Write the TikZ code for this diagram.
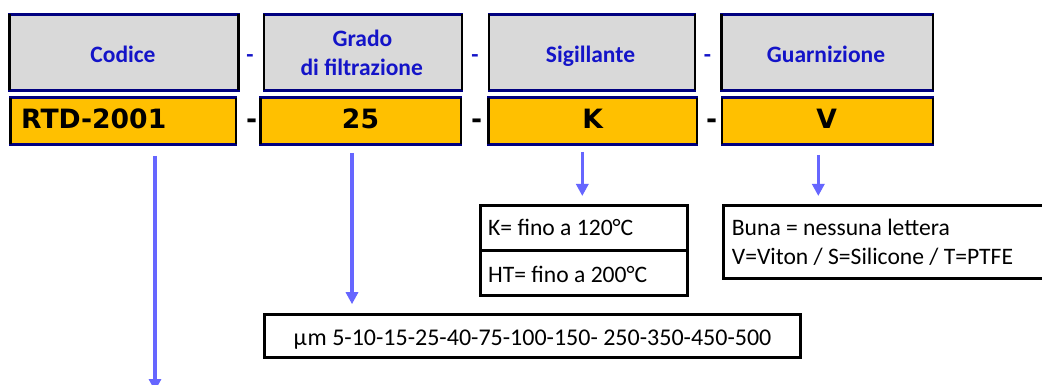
\documentclass[tikz,border=0pt]{standalone}
\usepackage{fontspec}
\setmainfont{Carlito}
\newfontfamily\codefont{DejaVu Sans}
\usetikzlibrary{arrows.meta}
\definecolor{hdrgray}{HTML}{D9D9D9}
\definecolor{codeorange}{HTML}{FFC000}
\definecolor{navyline}{HTML}{000080}
\definecolor{hdrblue}{RGB}{20,20,200}
\definecolor{arrowblue}{RGB}{102,102,255}
\tikzset{
  framed/.style={draw=navyline, line width=2.7pt, inner sep=0pt, outer sep=0pt,
    append after command={(\tikzlastnode.north west) edge[draw=black, line width=2.7pt] (\tikzlastnode.south west)
      (\tikzlastnode.north east) edge[draw=black, line width=2.7pt] (\tikzlastnode.south east)}},
  hdrbox/.style={framed, fill=hdrgray, minimum height=76pt},
  codebox/.style={framed, fill=codeorange, minimum height=46.5pt},
  infobox/.style={draw=black, line width=2.7pt, inner sep=0pt, outer sep=0pt, fill=white},
  hdrtext/.style={anchor=base, inner sep=0pt, text=hdrblue, font=\fontsize{23.5}{28}\selectfont\bfseries},
  codetext/.style={anchor=base, inner sep=0pt, font=\codefont\fontsize{26.6}{32}\selectfont\bfseries},
  infotext/.style={anchor=base west, inner sep=0pt, font=\fontsize{23.6}{28}\selectfont},
  linkarrow/.style={draw=arrowblue, line width=3.5pt, -{Triangle[length=12pt,width=12pt]}},
}
\begin{document}
\begin{tikzpicture}[x=1pt,y=-1pt]
\useasboundingbox (0,0) rectangle (1042,385);
\clip (0,0) rectangle (1042,385);
\fill[white] (0,0) rectangle (1042,385);

% header boxes
\node[hdrbox, minimum width=229pt] (hcod) at (124,52.5) {};
\node[hdrbox, minimum width=198pt] (hgra) at (363,52.5) {};
\node[hdrbox, minimum width=206pt] (hsig) at (592,52.5) {};
\node[hdrbox, minimum width=211.5pt] (hgua) at (827.25,52.5) {};

% code boxes
\node[codebox, minimum width=225.5pt] (ccod) at (123.25,121) {};
\node[codebox, minimum width=200.5pt] (cgra) at (360.75,121) {};
\node[codebox, minimum width=208.5pt] (csig) at (592.75,121) {};
\node[codebox, minimum width=211pt] (cgua) at (827.5,121) {};

% header texts
\node[hdrtext] (tcod) at (123,62.3) {Codice};
\node[hdrtext] (tgra1) at (362.5,47) {Grado};
\node[hdrtext] (tgra2) at (361.7,76) {di filtrazione};
\node[hdrtext] (tsig) at (590.5,62.3) {Sigillante};
\node[hdrtext] (tgua) at (826,62.3) {Guarnizione};
\node[hdrtext] (hd1) at (250,62.3) {-};
\node[hdrtext] (hd2) at (475,62.3) {-};
\node[hdrtext] (hd3) at (707.5,62.3) {-};

% code texts
\node[codetext, anchor=base west] (vcod) at (21,129) {RTD-2001};
\node[codetext] (vgra) at (360.5,129) {25};
\node[codetext] (vsig) at (592.7,129) {K};
\node[codetext] (vgua) at (826.7,129) {V};
\node[codetext] (cd1) at (251.7,129) {-};
\node[codetext] (cd2) at (476.7,129) {-};
\node[codetext] (cd3) at (711.7,129) {-};

% info boxes
\node[infobox, minimum width=206.7pt, minimum height=44.8pt] (ktop) at (583.85,227.9) {};
\node[infobox, minimum width=206.7pt, minimum height=44.9pt] (kbot) at (583.85,272.75) {};
\node[infobox, minimum width=330pt, minimum height=72.6pt] (buna) at (888.5,242) {};
\node[infobox, minimum width=535.4pt, minimum height=43.3pt] (mu) at (532.5,335.85) {};

\node[infotext] (k1) at (488,235.7) {K= fino a 120°C};
\node[infotext] (k2) at (488,282.7) {HT= fino a 200°C};
\node[infotext] (b1) at (731.7,235.7) {Buna = nessuna lettera};
\node[infotext] (b2) at (731.7,264) {V=Viton / S=Silicone / T=PTFE};
\node[infotext, font=\fontsize{24}{28}\selectfont] (m1) at (293.3,345) {μ\kern1pt m 5-10-15-25-40-75-100-150- 250-350-450-500};

% arrows
\coordinate (codend) at (155,391);
\draw[linkarrow] ([xshift=31.75pt,yshift=-11.75pt]ccod.south) -- (codend);
\draw[linkarrow, shorten >=10pt] ([xshift=-8.75pt,yshift=-8.75pt]cgra.south) -- ([xshift=-180.5pt]mu.north);
\draw[linkarrow, shorten >=9.5pt] ([xshift=-10.45pt,yshift=-7.75pt]csig.south) -- ([xshift=-1.55pt]ktop.north);
\draw[linkarrow, shorten >=9.7pt] ([xshift=-9.2pt,yshift=-10.75pt]cgua.south) -- ([xshift=-70.2pt]buna.north);
\end{tikzpicture}
\end{document}
